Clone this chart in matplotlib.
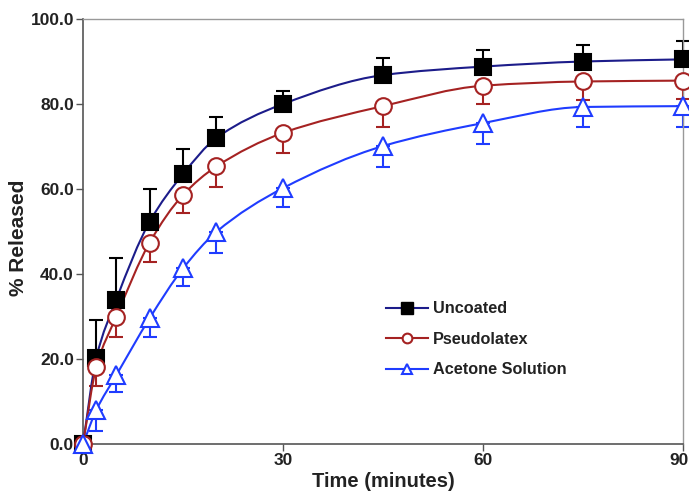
import numpy as np
import matplotlib
matplotlib.use("Agg")
import matplotlib.pyplot as plt
import matplotlib.transforms as mtransforms
from matplotlib.path import Path
from matplotlib.patches import PathPatch
from matplotlib.lines import Line2D

time = [0, 2, 5, 10, 15, 20, 30, 45, 60, 75, 90]
uncoated = [0, 20.3, 34.0, 52.3, 63.5, 72.0, 80.0, 86.8, 88.8, 90.0, 90.5]
uncoated_err = [0, 8.8, 9.7, 7.6, 5.8, 5.0, 3.0, 4.0, 3.9, 4.0, 4.3]
pseudolatex = [0, 18.2, 30.0, 47.4, 58.6, 65.3, 73.2, 79.5, 84.3, 85.3, 85.5]
pseudolatex_err = [0, 4.5, 4.9, 4.5, 4.3, 4.8, 4.7, 4.9, 4.4, 4.3, 4.3]
acetone = [0, 8.0, 16.2, 29.6, 41.3, 49.9, 60.2, 70.1, 75.5, 79.3, 79.5]
acetone_err = [0, 5.0, 3.9, 4.5, 4.1, 4.9, 4.4, 4.9, 4.9, 4.7, 5.0]

labels = ["Uncoated", "Pseudolatex", "Acetone Solution"]
xticks = [0, 30, 60, 90]
yticks = [0, 20, 40, 60, 80, 100]

plt.rcParams['font.family'] = ['Liberation Sans', 'DejaVu Sans']
plt.rcParams['font.weight'] = 'bold'

fig = plt.figure(figsize=(6.89, 4.93), dpi=100)
ax = fig.add_axes([83/689, 1-444/493, 600/689, 425/493])


def smooth_path(x, y):
    x = np.asarray(x, float)
    y = np.asarray(y, float)
    h = np.diff(x)
    d = np.diff(y) / h
    m = np.zeros_like(x)
    m[0] = d[0]
    m[-1] = d[-1]
    for i in range(1, len(x) - 1):
        if d[i-1] * d[i] <= 0:
            m[i] = 0
        else:
            w1 = 2*h[i] + h[i-1]
            w2 = h[i] + 2*h[i-1]
            m[i] = (w1 + w2) / (w1/d[i-1] + w2/d[i])
    verts = [(x[0], y[0])]
    codes = [Path.MOVETO]
    for i in range(len(x) - 1):
        verts += [(x[i] + h[i]/3, y[i] + m[i]*h[i]/3),
                  (x[i+1] - h[i]/3, y[i+1] - m[i+1]*h[i]/3),
                  (x[i+1], y[i+1])]
        codes += [Path.CURVE4]*3
    return Path(verts, codes)


series = [
    (uncoated, uncoated_err, '#1c1c8a', 's', 'black', 'black', 'up', 'black', 11),
    (pseudolatex, pseudolatex_err, '#a52222', 'o', '#a52222', 'white', 'down', '#a52222', 12),
    (acetone, acetone_err, '#1f3cff', '^', '#1f3cff', 'white', 'down', '#1f3cff', 12.5),
]

for vals, err, lc, mk, mec, mfc, direction, ecol, ms in series:
    patch = PathPatch(smooth_path(time, vals), facecolor='none', edgecolor=lc,
                      lw=1.5, zorder=3, clip_on=False)
    ax.add_patch(patch)
    e = np.asarray(err)
    if direction == 'up':
        yerr = [np.zeros_like(e), e]
    else:
        yerr = [e, np.zeros_like(e)]
    ax.errorbar(time, vals, yerr=yerr, fmt='none', ecolor=ecol, elinewidth=1.5,
                capsize=5, capthick=1.5, zorder=2, clip_on=False)
    ax.plot(time, vals, linestyle='none', marker=mk, markersize=ms,
            markeredgecolor=mec, markerfacecolor=mfc, markeredgewidth=1.5,
            zorder=4, clip_on=False)

ax.set_xlim(0, 90)
ax.set_ylim(0, 100)
ax.set_xticks(xticks)
ax.set_xticklabels([str(t) for t in xticks])
ax.set_yticks(yticks)
ax.set_yticklabels([f"{t:.1f}" for t in yticks])
ax.tick_params(axis='both', labelsize=12.5, length=5, width=1, colors='#555555',
               labelcolor='#222222', direction='out', pad=1.5)
for lbl in ax.get_xticklabels() + ax.get_yticklabels():
    lbl.set_fontweight('bold')

# nudge the last x tick label slightly left so it stays inside the figure
last = ax.get_xticklabels()[-1]
last.set_transform(last.get_transform() +
                   mtransforms.ScaledTranslation(-4/100, 0, fig.dpi_scale_trans))

for side in ['left', 'bottom']:
    ax.spines[side].set_color('#555555')
    ax.spines[side].set_linewidth(1.2)
for side in ['top', 'right']:
    ax.spines[side].set_color('#999999')
    ax.spines[side].set_linewidth(1.0)

ax.set_xlabel("Time (minutes)", fontsize=14.5, fontweight='bold', color='#222222', labelpad=3)
ax.set_ylabel("% Released", fontsize=15, fontweight='bold', color='#222222')
ax.yaxis.set_label_coords(-0.092, 0.485)

handles = [
    Line2D([], [], color='#1c1c8a', lw=1.5, marker='s', markersize=8,
           markerfacecolor='black', markeredgecolor='black'),
    Line2D([], [], color='#a52222', lw=1.5, marker='o', markersize=7,
           markerfacecolor='white', markeredgecolor='#a52222', markeredgewidth=1.5),
    Line2D([], [], color='#1f3cff', lw=1.5, marker='^', markersize=7,
           markerfacecolor='white', markeredgecolor='#1f3cff', markeredgewidth=1.5),
]
leg = ax.legend(handles, labels, loc='upper left', bbox_to_anchor=(0.48, 0.37),
                frameon=False, handlelength=2.6, labelspacing=0.95,
                handletextpad=0.3, prop={'weight': 'bold', 'size': 11.7})
for t in leg.get_texts():
    t.set_color('#222222')

fig.savefig("out.png", dpi=100)
